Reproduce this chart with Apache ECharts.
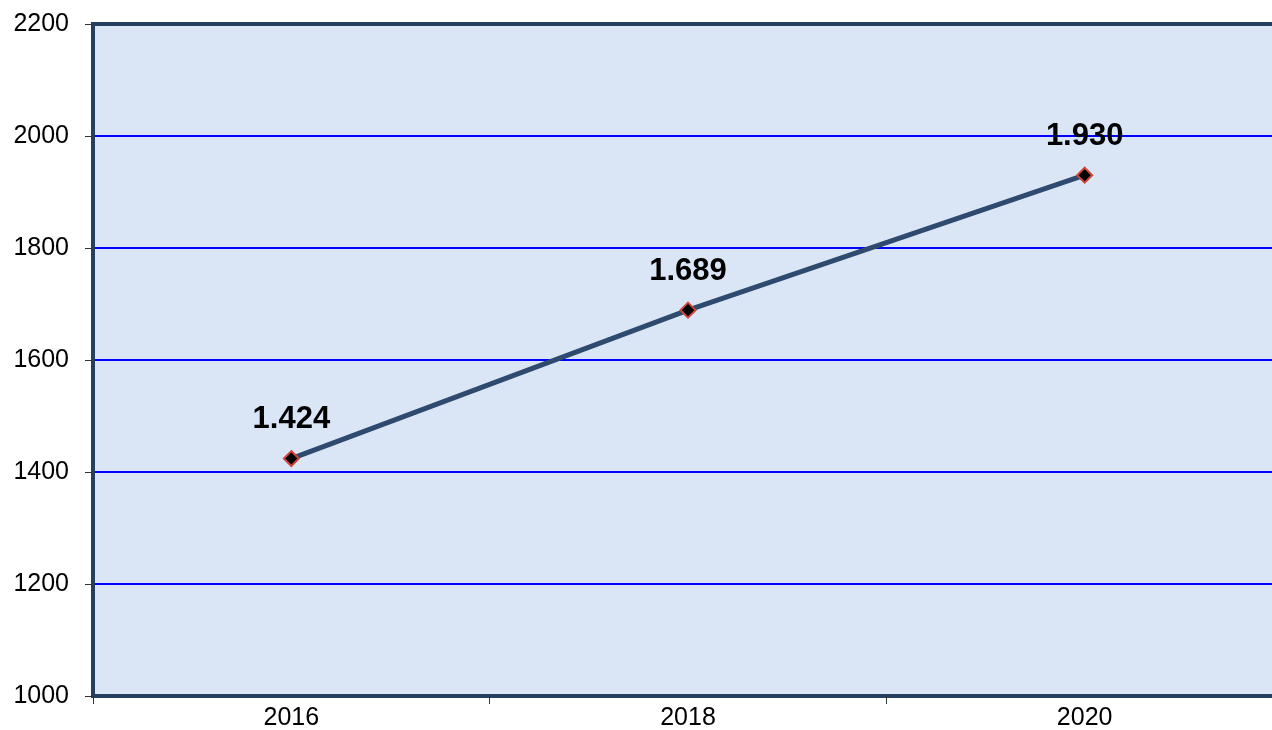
<!DOCTYPE html>
<html>
<head>
<meta charset="utf-8">
<script src="https://cdn.jsdelivr.net/npm/echarts@6/dist/echarts.min.js"></script>
<style>
html,body{margin:0;padding:0;background:#fff;}
#chart{width:1272px;height:730px;}
</style>
</head>
<body>
<div id="chart"></div>
<script>
const categories = ['2016', '2018', '2020'];
const values = [1424, 1689, 1930];
const yMin = 1000, yMax = 2200, yInterval = 200;

function fmtThousands(v) {
  return String(v).replace(/\B(?=(\d{3})+(?!\d))/g, '.');
}

const FONT = 'Arial, Liberation Sans, sans-serif';
const chart = echarts.init(document.getElementById('chart'), null, {renderer: 'canvas'});
chart.setOption({
  animation: false,
  backgroundColor: '#ffffff',
  grid: {
    left: 93, top: 24, height: 672, width: 1190,
    outerBoundsMode: 'none',
    containLabel: false,
    show: true,
    backgroundColor: '#dae6f5',
    borderColor: '#243f60',
    borderWidth: 4
  },
  xAxis: {
    type: 'category',
    data: categories,
    boundaryGap: true,
    axisLine: {show: true, lineStyle: {color: '#243f60', width: 4}},
    axisTick: {show: true, length: 8, lineStyle: {color: '#333', width: 1}},
    axisLabel: {color: '#000', fontSize: 25, fontFamily: FONT, margin: 10},
    splitLine: {show: false}
  },
  yAxis: {
    type: 'value',
    min: yMin, max: yMax, interval: yInterval,
    axisLine: {show: true, lineStyle: {color: '#243f60', width: 4}},
    axisTick: {show: true, length: 8, lineStyle: {color: '#333', width: 1}},
    axisLabel: {color: '#000', fontSize: 25, fontFamily: FONT, margin: 24, formatter: v => String(v)},
    splitLine: {show: true, showMinLine: false, showMaxLine: false, lineStyle: {color: '#0000ff', width: 2}}
  },
  series: [{
    type: 'line',
    data: values,
    symbol: 'diamond',
    symbolSize: 15,
    lineStyle: {color: '#2e4a6e', width: 5},
    itemStyle: {color: '#000000', borderColor: '#d0453a', borderWidth: 2},
    label: {
      show: true,
      position: 'top',
      distance: 15,
      formatter: p => fmtThousands(p.value),
      color: '#000',
      fontSize: 31,
      fontWeight: 'bold',
      fontFamily: FONT
    },
    z: 5
  }]
});
</script>
</body>
</html>
